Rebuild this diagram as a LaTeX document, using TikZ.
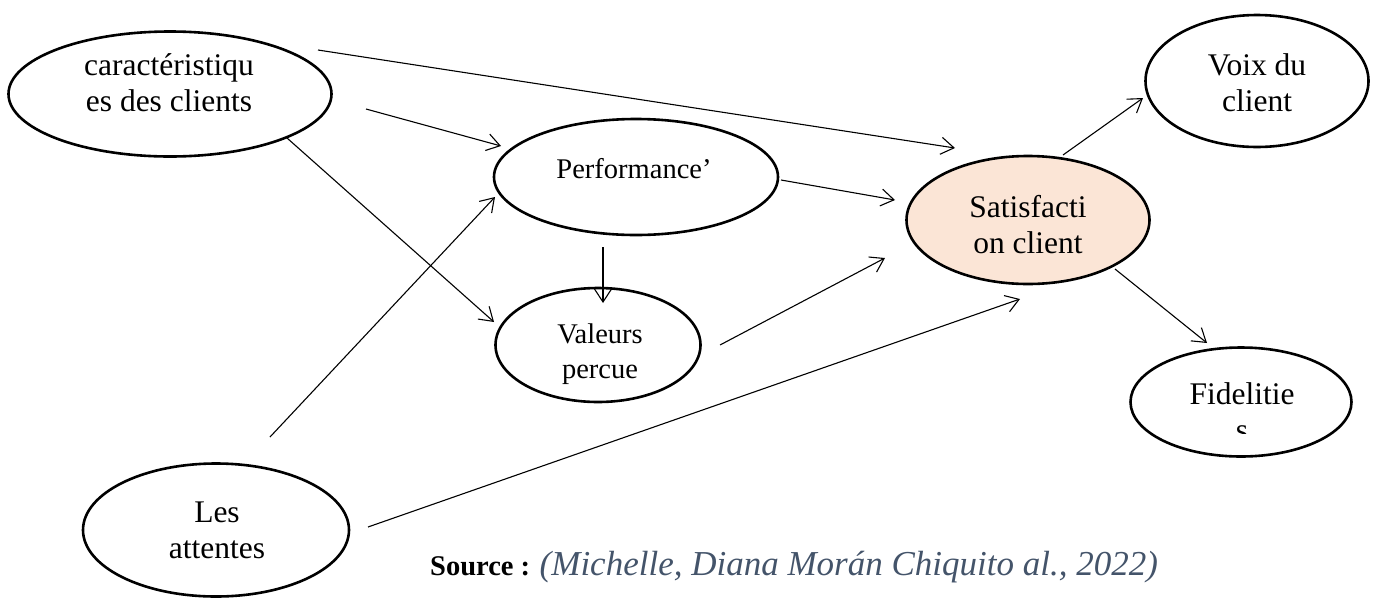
\documentclass[tikz,border=0pt]{standalone}
\usepackage{fontspec}
\setmainfont{Liberation Serif}
\usetikzlibrary{shapes.geometric,arrows.meta}
\definecolor{peach}{HTML}{FBE5D6}
\definecolor{srcblue}{HTML}{44546A}
\newcommand\twolines[2]{\begin{tabular}[t]{@{}c@{}}#1\\#2\end{tabular}}
\begin{document}
\begin{tikzpicture}[x=1pt,y=-1pt,
  oval/.style={ellipse,draw,line width=2.6pt,inner sep=0pt},
  conn/.style={line width=1.1pt,-{Straight Barb[length=13pt,width=17pt,line width=1.1pt]}},
  big/.style={font=\fontsize{31.5}{36.5}\selectfont,anchor=base,inner sep=0pt},
  small/.style={font=\fontsize{28.5}{35}\selectfont,anchor=base,inner sep=0pt}]
\useasboundingbox (0,0) rectangle (1374,598);

% ovals
\node[oval,minimum width=323pt,minimum height=125pt] (car) at (170,94) {};
\node[oval,minimum width=223pt,minimum height=132pt] (voix) at (1257,81) {};
\node[oval,minimum width=284pt,minimum height=116pt] (perf) at (636,177) {};
\node[oval,fill=peach,minimum width=243pt,minimum height=128pt] (sat) at (1028,220) {};
\node[oval,minimum width=205pt,minimum height=114pt] (val) at (598,345) {};
\node[oval,minimum width=266pt,minimum height=133pt] (att) at (216,530) {};
\node[oval,minimum width=221pt,minimum height=109pt] (fid) at (1241,402) {};

% labels
\node[big] (car-t) at (169,75) {\twolines{caractéristiqu}{es des clients}};
\node[big] (voix-t) at (1257,75) {\twolines{Voix du}{client}};
\node[small] (perf-t) at (634,178) {Performance’};
\node[big] (sat-t) at (1028,217) {\twolines{Satisfacti}{on client}};
\node[small] (val-t) at (600,343) {\twolines{Valeurs}{percue}};
\node[big] (att-t) at (217,522) {\twolines{Les}{attentes}};
\begin{scope}
  \clip (1130,340) rectangle (1353,433);
  \node[big] (fid-t) at (1242,404) {\twolines{Fidelitie}{s}};
\end{scope}

% connector ends
\coordinate (c1) at (318,50);   \coordinate (s1) at (955,148);
\coordinate (c2) at (366,109);  \coordinate (p1) at (501,146);
\coordinate (c3) at (287,138);  \coordinate (v1) at (494,322);
\coordinate (a1) at (270,437);  \coordinate (p2) at (495,197);
\coordinate (p3) at (603,247);  \coordinate (v2) at (603,303);
\coordinate (p4) at (781,180);  \coordinate (s2) at (895,200);
\coordinate (v3) at (720,345);  \coordinate (s3) at (885,258);
\coordinate (a2) at (368,527);  \coordinate (s4) at (1020,299);
\coordinate (s5) at (1063,155); \coordinate (o1) at (1143,98);
\coordinate (s6) at (1115,269); \coordinate (f1) at (1207,343);

\draw[conn] (c1) -- (s1);
\draw[conn] (c2) -- (p1);
\draw[conn] (c3) -- (v1);
\draw[conn] (a1) -- (p2);
\draw[conn] (p3) -- (v2);
\draw[conn] (p4) -- (s2);
\draw[conn] (v3) -- (s3);
\draw[conn] (a2) -- (s4);
\draw[conn] (s5) -- (o1);
\draw[conn] (s6) -- (f1);

% source line
\node[anchor=base west,inner sep=0pt,font=\fontsize{28.5}{34}\selectfont] (src) at (430,575)
  {\textbf{Source :} {\fontsize{35}{40}\selectfont\itshape\color{srcblue}(Michelle, Diana Morán Chiquito al., 2022)}};
\end{tikzpicture}
\end{document}
